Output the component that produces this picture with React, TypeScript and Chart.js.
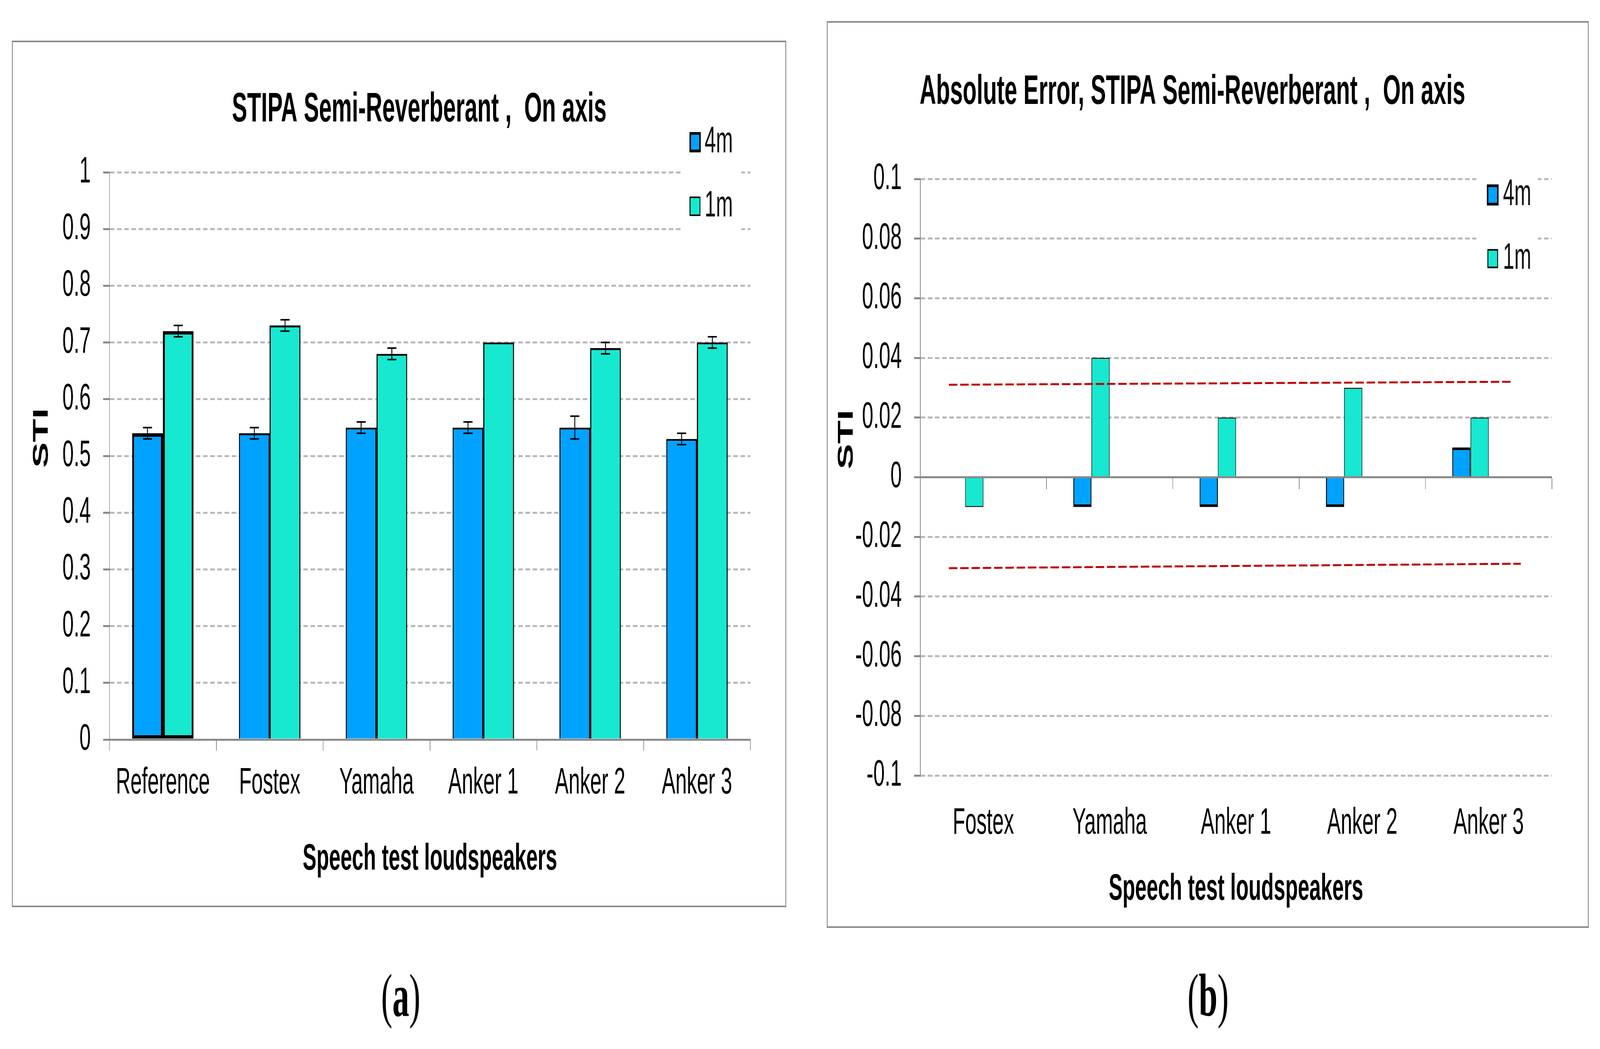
import React, { useEffect, useRef } from 'react';
import { Chart, registerables } from 'chart.js';

Chart.register(...registerables);

const SANS = "'Liberation Sans', Arial, Helvetica, sans-serif";
const SERIF = "'Liberation Serif', 'Times New Roman', serif";

// ---------- Panel (a) data ----------
const speakersA = ['Reference', 'Fostex', 'Yamaha', 'Anker 1', 'Anker 2', 'Anker 3'];
const stiAt4m = [0.54, 0.54, 0.55, 0.55, 0.55, 0.53];
const stiAt1m = [0.72, 0.73, 0.68, 0.7, 0.69, 0.7];
const stiErr4m = [0.01, 0.01, 0.01, 0.01, 0.02, 0.01];
const stiErr1m = [0.01, 0.01, 0.01, 0, 0.01, 0.01];
const yRangeA = [0, 1];
const yStepA = 0.1;

// ---------- Panel (b) data ----------
const speakersB = ['Fostex', 'Yamaha', 'Anker 1', 'Anker 2', 'Anker 3'];
const absErrAt4m = [null, -0.01, -0.01, -0.01, 0.01];
const absErrAt1m = [-0.01, 0.04, 0.02, 0.03, 0.02];
const upperLimitX = [0, 4.9];
const upperLimitY = [0.031, 0.032];
const lowerLimitX = [0, 4.98];
const lowerLimitY = [-0.0305, -0.029];
const yRangeB = [-0.1, 0.1];
const yStepB = 0.02;

const seriesNames = ['4m', '1m'];
const titleA = 'STIPA Semi-Reverberant ,  On axis';
const titleB = 'Absolute Error, STIPA Semi-Reverberant ,  On axis';
const yTitle = 'STI';
const xTitle = 'Speech test loudspeakers';

// ---------- styles ----------
const BLUE = '#00A2FF';
const TEAL = '#17E8D0';
const GRID = '#B8B8B8';
const AXIS = '#898989';
const RED = '#C00000';
const PAGE_W = 7369;
const PAGE_H = 2685;

Chart.defaults.font.family = SANS;
Chart.defaults.color = '#000';

const fmt = (v: any) => String(Math.round(Number(v) * 1000) / 1000);
const gridColor = (c: any) => (c.tick && Math.abs(c.tick.value) < 1e-9 ? 'rgba(0,0,0,0)' : GRID);

const errorBarPlugin = {
  id: 'errorBars',
  afterDatasetsDraw(chart: any, _args: any, opts: any) {
    const { ctx } = chart;
    const ys = chart.scales.y;
    chart.data.datasets.forEach((ds: any, di: number) => {
      if (!ds.errors) return;
      const meta = chart.getDatasetMeta(di);
      meta.data.forEach((el: any, i: number) => {
        const v = ds.data[i];
        const e = ds.errors[i];
        if (v == null || !e) return;
        const yt = ys.getPixelForValue(v + e);
        const yb = ys.getPixelForValue(v - e);
        ctx.save();
        ctx.strokeStyle = opts.color;
        ctx.lineWidth = opts.width;
        ctx.beginPath();
        ctx.moveTo(el.x, yt);
        ctx.lineTo(el.x, yb);
        ctx.moveTo(el.x - opts.cap, yt);
        ctx.lineTo(el.x + opts.cap, yt);
        ctx.moveTo(el.x - opts.cap, yb);
        ctx.lineTo(el.x + opts.cap, yb);
        ctx.stroke();
        ctx.restore();
      });
    });
  },
};

// legend boxed inside the plot area (white background over the grid)
const boxLegendPlugin = {
  id: 'boxLegend',
  afterDraw(chart: any, _args: any, o: any) {
    const { ctx, chartArea: a } = chart;
    ctx.save();
    ctx.fillStyle = '#FFFFFF';
    ctx.fillRect(a.right + o.box[0], a.top + o.box[1], o.box[2] - o.box[0], o.box[3] - o.box[1]);
    for (let i = 0; i < 2; i++) {
      const ds = chart.data.datasets[i];
      const cy = a.top + o.cy[i];
      const s = o.size[i];
      const bw = o.bw[i];
      const x0 = a.right + o.swCx - s / 2;
      ctx.fillStyle = '#000';
      ctx.fillRect(x0, cy - s / 2, s, s);
      ctx.fillStyle = ds.backgroundColor;
      ctx.fillRect(x0 + bw, cy - s / 2 + bw, s - 2 * bw, s - 2 * bw);
      ctx.fillStyle = '#111';
      ctx.font = `${o.fontSize}px ${SANS}`;
      ctx.textAlign = 'left';
      ctx.textBaseline = 'middle';
      ctx.fillText(ds.label, a.right + o.txX, cy);
    }
    ctx.restore();
  },
};

// rotated value-axis title, placed relative to the plot area like the original
const yAxisTitlePlugin = {
  id: 'yAxisTitle',
  afterDraw(chart: any, _args: any, o: any) {
    const { ctx, chartArea: a } = chart;
    ctx.save();
    ctx.translate(a.left + o.dx, a.top + o.dy);
    ctx.rotate(-Math.PI / 2);
    ctx.fillStyle = '#000';
    ctx.font = `bold ${o.fontSize}px ${SANS}`;
    ctx.textAlign = 'center';
    ctx.textBaseline = 'middle';
    ctx.fillText(o.text, 0, 0);
    ctx.restore();
  },
};

const tickFont = { family: SANS, size: 94 };
const axisTitleFont = { family: SANS, size: 95, weight: 'bold' as const };

function configA(dpr: number): any {
  return {
    type: 'bar',
    data: {
      labels: speakersA,
      datasets: [
        {
          label: seriesNames[0],
          data: stiAt4m,
          errors: stiErr4m,
          backgroundColor: BLUE,
          borderColor: '#000',
          borderWidth: (c: any) => (c.dataIndex === 0 ? 9 : 5),
          borderSkipped: (c: any) => (c.dataIndex === 0 ? false : 'start'),
          categoryPercentage: 0.575,
          barPercentage: 1,
        },
        {
          label: seriesNames[1],
          data: stiAt1m,
          errors: stiErr1m,
          backgroundColor: TEAL,
          borderColor: '#000',
          borderWidth: (c: any) => (c.dataIndex === 0 ? 9 : 5),
          borderSkipped: (c: any) => (c.dataIndex === 0 ? false : 'start'),
          categoryPercentage: 0.575,
          barPercentage: 1,
        },
      ],
    },
    options: {
      responsive: false,
      animation: false,
      devicePixelRatio: dpr,
      layout: { padding: { left: 222, right: 36, top: 0, bottom: 0 } },
      plugins: {
        legend: { display: false },
        tooltip: { enabled: false },
        title: {
          display: true,
          text: titleA,
          color: '#000',
          font: { family: SANS, size: 105, weight: 'bold', lineHeight: 1.2 },
          padding: { top: 111, bottom: 96 },
        },
        errorBars: { color: '#000', width: 4, cap: 21 },
        boxLegend: {
          box: [-317, -121, -41, 200],
          swCx: -255,
          txX: -211,
          cy: [-77, 87],
          size: [52, 50],
          bw: [7, 4],
          fontSize: 94,
        },
        yAxisTitle: { text: yTitle, dx: -311, dy: 680, fontSize: 98 },
      },
      scales: {
        x: {
          type: 'category',
          offset: true,
          grid: { offset: true, drawOnChartArea: false, drawTicks: true, tickLength: 28, tickColor: AXIS, tickWidth: 3, color: AXIS },
          border: { display: true, color: AXIS, width: 5 },
          ticks: { color: '#000', font: tickFont, padding: 28, maxRotation: 0, autoSkip: false },
          title: { display: true, text: xTitle, color: '#000', font: axisTitleFont, padding: { top: 0, bottom: 61 } },
          afterFit: (s: any) => {
            s.height = 425;
          },
        },
        y: {
          type: 'linear',
          min: yRangeA[0],
          max: yRangeA[1],
          ticks: { stepSize: yStepA, color: '#000', font: tickFont, padding: 57, callback: (v: any) => fmt(v) },
          grid: { color: gridColor, lineWidth: 5, tickLength: 29, tickColor: AXIS, tickWidth: 5 },
          border: { display: true, color: AXIS, width: 3, dash: [21, 12] },
          title: { display: false },
          afterFit: (s: any) => {
            s.width = 223;
          },
        },
        yr: {
          type: 'linear',
          axis: 'y',
          position: 'right',
          grid: { display: false },
          border: { display: false },
          ticks: { display: false },
          afterFit: (s: any) => {
            s.width = 125;
          },
        },
      },
    },
    plugins: [errorBarPlugin, boxLegendPlugin, yAxisTitlePlugin],
  };
}

function configB(dpr: number): any {
  return {
    type: 'bar',
    data: {
      labels: speakersB,
      datasets: [
        {
          label: seriesNames[0],
          data: absErrAt4m,
          xAxisID: 'x',
          yAxisID: 'y',
          backgroundColor: BLUE,
          borderColor: '#000',
          borderWidth: { top: 7, bottom: 7, left: 4, right: 4 },
          borderSkipped: 'start',
          categoryPercentage: 0.575,
          barPercentage: 1,
        },
        {
          label: seriesNames[1],
          data: absErrAt1m,
          xAxisID: 'x',
          yAxisID: 'y',
          backgroundColor: TEAL,
          borderColor: '#000',
          borderWidth: 2.5,
          borderSkipped: 'start',
          categoryPercentage: 0.575,
          barPercentage: 1,
        },
        {
          type: 'line',
          label: 'upper limit',
          data: upperLimitX.map((x, i) => ({ x, y: upperLimitY[i] })),
          xAxisID: 'xl',
          yAxisID: 'y',
          borderColor: RED,
          borderWidth: 5,
          borderDash: [39, 13],
          pointRadius: 0,
          fill: false,
          clip: false,
          order: -1,
        },
        {
          type: 'line',
          label: 'lower limit',
          data: lowerLimitX.map((x, i) => ({ x, y: lowerLimitY[i] })),
          xAxisID: 'xl',
          yAxisID: 'y',
          borderColor: RED,
          borderWidth: 5,
          borderDash: [39, 13],
          pointRadius: 0,
          fill: false,
          clip: false,
          order: -1,
        },
      ],
    },
    options: {
      responsive: false,
      animation: false,
      devicePixelRatio: dpr,
      layout: { padding: { left: 25, right: 166, top: 0, bottom: 0 } },
      plugins: {
        legend: { display: false },
        tooltip: { enabled: false },
        title: {
          display: true,
          text: titleB,
          color: '#000',
          font: { family: SANS, size: 105, weight: 'bold', lineHeight: 1.2 },
          padding: { top: 116, bottom: 158 },
        },
        boxLegend: {
          box: [-348, -30, -64, 262],
          swCx: -272,
          txX: -225,
          cy: [41, 204],
          size: [54, 49],
          bw: [7, 4],
          fontSize: 94,
        },
        yAxisTitle: { text: yTitle, dx: -338, dy: 667, fontSize: 98 },
      },
      scales: {
        x: {
          type: 'category',
          offset: true,
          grid: { offset: true, display: false },
          border: { display: false },
          ticks: { color: '#000', font: tickFont, padding: 58.6, maxRotation: 0, autoSkip: false },
          title: { display: true, text: xTitle, color: '#000', font: axisTitleFont, padding: { top: 0, bottom: 37 } },
          afterFit: (s: any) => {
            s.height = 386;
          },
        },
        x2: {
          type: 'category',
          axis: 'x',
          position: { y: 0 },
          offset: true,
          grid: { offset: true, drawOnChartArea: false, drawTicks: true, tickLength: 28, tickColor: AXIS, tickWidth: 3, color: AXIS },
          border: { display: true, color: AXIS, width: 5, z: 1 },
          ticks: { display: false },
        },
        xl: {
          type: 'linear',
          axis: 'x',
          display: false,
          min: 0,
          max: speakersB.length,
        },
        y: {
          type: 'linear',
          min: yRangeB[0],
          max: yRangeB[1],
          ticks: { stepSize: yStepB, color: '#000', font: tickFont, padding: 57, callback: (v: any) => fmt(v) },
          grid: { color: gridColor, lineWidth: 5, tickLength: 28, tickColor: AXIS, tickWidth: 5 },
          border: { display: true, color: AXIS, width: 3, dash: [21, 12] },
          title: { display: false },
          afterFit: (s: any) => {
            s.width = 401;
          },
        },
      },
    },
    plugins: [boxLegendPlugin, yAxisTitlePlugin],
  };
}

function ChartCanvas({ make, width, height, dpr }: { make: (d: number) => any; width: number; height: number; dpr: number }) {
  const ref = useRef<HTMLCanvasElement | null>(null);
  useEffect(() => {
    const chart = new Chart(ref.current as HTMLCanvasElement, make(dpr));
    return () => chart.destroy();
  }, []);
  return <canvas ref={ref} width={width} height={height} style={{ display: 'block', width, height }} />;
}

const panelStyle = (left: number, top: number, width: number, height: number): React.CSSProperties => ({
  position: 'absolute',
  left,
  top,
  width,
  height,
  boxSizing: 'border-box',
  border: `4px solid ${AXIS}`,
  background: '#fff',
});

const captionStyle = (centerX: number): React.CSSProperties => ({
  position: 'absolute',
  left: centerX - 200,
  top: 2471,
  width: 400,
  textAlign: 'center',
  fontFamily: SERIF,
  fontSize: 155,
  lineHeight: 1,
  color: '#000',
});

export default function App() {
  const hasWin = typeof window !== 'undefined';
  const vw = hasWin && window.innerWidth ? window.innerWidth : PAGE_W;
  const vh = hasWin && window.innerHeight ? window.innerHeight : PAGE_H;
  const kx = vw / PAGE_W;
  const ky = vh / PAGE_H;
  const dpr = (hasWin && window.devicePixelRatio ? window.devicePixelRatio : 1) * Math.max(kx, ky);
  return (
    <div style={{ position: 'absolute', left: 0, top: 0, width: vw, height: vh, overflow: 'hidden', background: '#fff' }}>
      <div
        style={{
          position: 'absolute',
          left: 0,
          top: 0,
          width: PAGE_W,
          height: PAGE_H,
          transform: `scale(${kx}, ${ky})`,
          transformOrigin: '0 0',
          background: '#fff',
        }}
      >
        <div style={panelStyle(55, 104, 3566, 2218)}>
          <ChartCanvas make={configA} width={3558} height={2210} dpr={dpr} />
        </div>
        <div style={panelStyle(3808, 54, 3509, 2321)}>
          <ChartCanvas make={configB} width={3501} height={2313} dpr={dpr} />
        </div>
        <div style={captionStyle(1846)}>
          (<b>a</b>)
        </div>
        <div style={captionStyle(5564)}>
          (<b>b</b>)
        </div>
      </div>
    </div>
  );
}
